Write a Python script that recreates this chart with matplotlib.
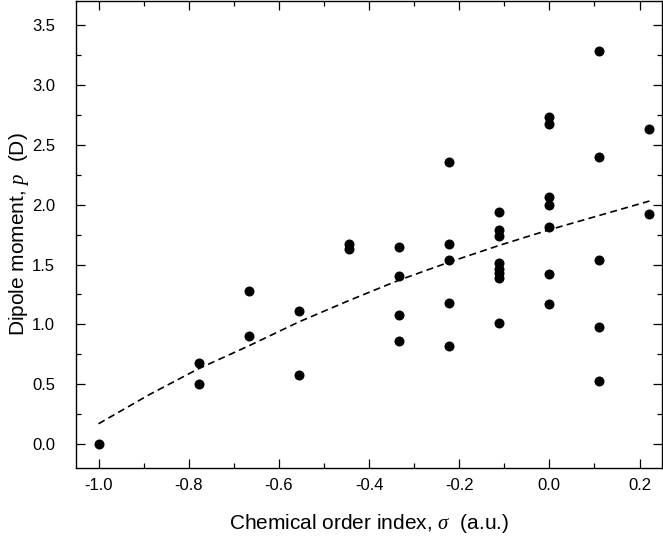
import numpy as np
import matplotlib
matplotlib.use('Agg')
import matplotlib.pyplot as plt
from matplotlib.ticker import MultipleLocator, FormatStrFormatter

plt.rcParams['font.family'] = ['Liberation Sans', 'DejaVu Sans']
plt.rcParams['mathtext.fontset'] = 'custom'
plt.rcParams['mathtext.rm'] = 'Liberation Sans'
plt.rcParams['mathtext.it'] = 'Liberation Serif:italic'

# chemical order index (multiples of 1/9) and dipole moments
sigma = [-1.0,
         -0.778, -0.778,
         -0.667, -0.667,
         -0.556, -0.556,
         -0.444, -0.444,
         -0.333, -0.333, -0.333, -0.333,
         -0.222, -0.222, -0.222, -0.222, -0.222,
         -0.111, -0.111, -0.111, -0.111, -0.111, -0.111, -0.111, -0.111,
         0.0, 0.0, 0.0, 0.0, 0.0, 0.0, 0.0,
         0.111, 0.111, 0.111, 0.111, 0.111,
         0.222, 0.222]
dipole = [0.0,
          0.68, 0.50,
          1.28, 0.90,
          1.11, 0.58,
          1.67, 1.63,
          1.65, 1.40, 1.08, 0.86,
          2.36, 1.67, 1.54, 1.18, 0.82,
          1.94, 1.79, 1.74, 1.51, 1.46, 1.43, 1.39, 1.01,
          2.73, 2.67, 2.06, 2.00, 1.81, 1.42, 1.17,
          3.28, 2.40, 1.54, 0.98, 0.53,
          2.63, 1.92]

# dashed trend curve, read at the same sigma steps
fit_sigma = [-1.0, -0.889, -0.778, -0.667, -0.556, -0.444, -0.333, -0.222, -0.111, 0.0, 0.111, 0.222]
fit_dipole = [0.17, 0.41, 0.63, 0.82, 1.02, 1.20, 1.37, 1.52, 1.66, 1.79, 1.91, 2.03]

fig = plt.figure(figsize=(6.63, 5.43), dpi=100)
ax = fig.add_axes([0.1146, 0.138, 0.884, 0.860])

ax.plot(fit_sigma, fit_dipole, color='black', lw=1.2, dashes=(4.2, 2.6))
ax.scatter(sigma, dipole, s=52, color='black', zorder=3, linewidths=0)

ax.set_xlim(-1.05, 0.25)
ax.set_ylim(-0.2, 3.7)
ax.xaxis.set_major_locator(MultipleLocator(0.2))
ax.xaxis.set_minor_locator(MultipleLocator(0.1))
ax.yaxis.set_major_locator(MultipleLocator(0.5))
ax.yaxis.set_minor_locator(MultipleLocator(0.25))
ax.xaxis.set_major_formatter(FormatStrFormatter('%.1f'))
ax.yaxis.set_major_formatter(FormatStrFormatter('%.1f'))

ax.tick_params(which='both', direction='in', top=True, right=True, width=0.9)
ax.tick_params(which='major', length=6.5, labelsize=12)
ax.tick_params(axis='x', which='major', pad=7)
ax.tick_params(axis='y', which='major', pad=15)
ax.tick_params(which='minor', length=3.5)
for s in ax.spines.values():
    s.set_linewidth(1.0)

ax.set_xlabel(r'Chemical order index, $\sigma$  (a.u.)', fontsize=15, labelpad=14)
ax.set_ylabel(r'Dipole moment, $p$  (D)', fontsize=15, labelpad=1)

fig.savefig('out.png', dpi=100)
